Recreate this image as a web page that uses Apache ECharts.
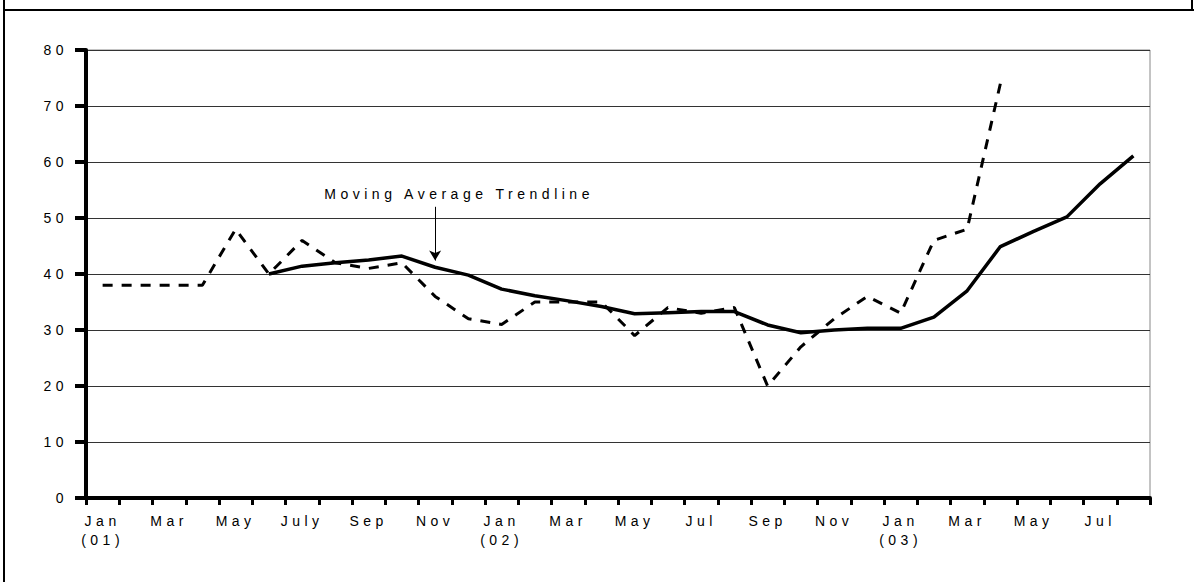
<!DOCTYPE html>
<html>
<head>
<meta charset="utf-8">
<script src="https://cdn.jsdelivr.net/npm/echarts@6/dist/echarts.min.js"></script>
<style>
  html, body { margin: 0; padding: 0; background: #fff; }
  #container { width: 1194px; height: 582px; }
  /* spaced-out lettering like the original */
  #container text { letter-spacing: 4.5px; }
</style>
</head>
<body>
<div id="container"></div>
<script>
// months Jan 2001 .. Aug 2003
let months = ['Jan\n(01)', 'Feb', 'Mar', 'Apr', 'May', 'Jun', 'July', 'Aug', 'Sep', 'Oct', 'Nov', 'Dec',
  'Jan\n(02)', 'Feb', 'Mar', 'Apr', 'May', 'Jun', 'Jul', 'Aug', 'Sep', 'Oct', 'Nov', 'Dec',
  'Jan\n(03)', 'Feb', 'Mar', 'Apr', 'May', 'Jun', 'Jul', 'Aug']

// monthly values (dashed line)
let actual = [38, 38, 38, 38, 48, 40, 46, 42, 41, 42, 36, 32,
  31, 35, 35, 35, 29, 34, 33, 34, 20, 27, 32, 36,
  33, 46, 48, 74, null, null, null, null]

// moving average trendline (solid line)
let movingAvg = [null, null, null, null, null, 40, 41.4, 42, 42.5, 43.2, 41.2, 39.8,
  37.3, 36.1, 35.2, 34.2, 32.9, 33.1, 33.3, 33.3, 30.9, 29.5, 30, 30.3,
  30.3, 32.3, 37, 44.9, 47.6, 50.2, 56.1, 61.1]

let yTicks = [0, 10, 20, 30, 40, 50, 60, 70, 80]
let noteText = 'Moving Average Trendline'
let noteAt = { index: 10, from: 52, to: 42.4 }

let font = 'Liberation Sans, Arial, sans-serif'

let divEle = document.getElementById('container')
let instance = echarts.init(divEle, null, { renderer: 'svg' })

instance.setOption({
  animation: false,
  backgroundColor: '#fff',
  grid: {
    left: 86,
    right: 44,
    top: 50,
    bottom: 84,
    show: true,
    borderColor: '#888',
    borderWidth: 1
  },
  xAxis: {
    type: 'category',
    boundaryGap: true,
    data: months,
    axisLine: { lineStyle: { color: '#000', width: 4 } },
    axisTick: {
      show: true,
      interval: 0,
      length: 7,
      lineStyle: { color: '#000', width: 3 }
    },
    axisLabel: {
      interval: 1,
      margin: 13,
      color: '#000',
      fontSize: 14,
      fontFamily: font,
      lineHeight: 19
    }
  },
  yAxis: {
    type: 'value',
    min: yTicks[0],
    max: yTicks[yTicks.length - 1],
    interval: yTicks[1] - yTicks[0],
    axisLine: { show: true, lineStyle: { color: '#000', width: 4 } },
    axisTick: { show: true, length: 11, lineStyle: { color: '#000', width: 4 } },
    axisLabel: { margin: 18, color: '#000', fontSize: 14, fontFamily: font },
    splitLine: { lineStyle: { color: '#333', width: 1 } }
  },
  series: [
    {
      name: 'actual',
      type: 'line',
      data: actual,
      symbol: 'none',
      lineStyle: { color: '#000', width: 3, type: [10, 9] }
    },
    {
      name: 'moving average',
      type: 'line',
      data: movingAvg,
      symbol: 'none',
      lineStyle: { color: '#000', width: 3.5 },
      markLine: {
        silent: true,
        symbolSize: [9, 10],
        lineStyle: { color: '#000', width: 1, type: 'solid' },
        label: {
          show: true,
          position: 'start',
          formatter: noteText,
          color: '#000',
          fontSize: 14,
          fontFamily: font,
          distance: 6,
          offset: [24, 0]
        },
        data: [[
          { coord: [noteAt.index, noteAt.from], symbol: 'none' },
          { coord: [noteAt.index, noteAt.to], symbol: 'arrow' }
        ]]
      }
    }
  ],
  // outer frame lines of the page
  graphic: [
    { type: 'line', shape: { x1: 4, y1: 0, x2: 4, y2: 582 }, style: { stroke: '#000', lineWidth: 2 } },
    { type: 'line', shape: { x1: 4, y1: 10, x2: 1194, y2: 10 }, style: { stroke: '#000', lineWidth: 2 } },
    { type: 'line', shape: { x1: 1192, y1: 0, x2: 1192, y2: 10 }, style: { stroke: '#000', lineWidth: 2 } }
  ]
})
</script>
</body>
</html>
